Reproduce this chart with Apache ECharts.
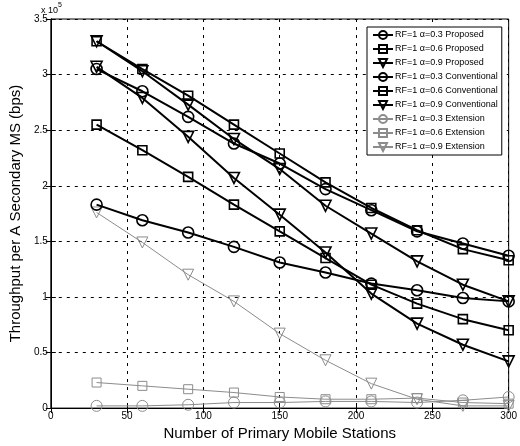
<!DOCTYPE html>
<html>
<head>
<meta charset="utf-8">
<script src="https://cdn.jsdelivr.net/npm/echarts@6/dist/echarts.min.js"></script>
<style>html,body{margin:0;padding:0;background:#fff}#c{width:520px;height:446px}</style>
</head>
<body>
<div id="c"></div>
<script>
// x values: number of primary mobile stations
const stations = [30, 60, 90, 120, 150, 180, 210, 240, 270, 300];
// throughput values (x 10^5 bps)
const propA03 = [3.05, 2.85, 2.62, 2.38, 2.20, 1.97, 1.78, 1.59, 1.48, 1.37];
const propA06 = [3.30, 3.05, 2.81, 2.55, 2.29, 2.03, 1.80, 1.60, 1.43, 1.33];
const propA09 = [3.30, 3.03, 2.73, 2.42, 2.15, 1.82, 1.57, 1.32, 1.11, 0.96];
const convA03 = [1.83, 1.69, 1.58, 1.45, 1.31, 1.22, 1.12, 1.06, 0.99, 0.96];
const convA06 = [2.55, 2.32, 2.08, 1.83, 1.59, 1.35, 1.11, 0.94, 0.80, 0.70];
const convA09 = [3.07, 2.79, 2.44, 2.07, 1.74, 1.40, 1.03, 0.76, 0.57, 0.42];
const extA03 = [0.02, 0.02, 0.03, 0.05, 0.05, 0.06, 0.06, 0.05, 0.07, 0.10];
const extA06 = [0.23, 0.20, 0.17, 0.14, 0.10, 0.08, 0.08, 0.09, 0.05, 0.04];
const extA09 = [1.76, 1.49, 1.20, 0.96, 0.67, 0.43, 0.22, 0.08, 0.02, 0.02];
const names = [
  'RF=1 \u03b1=0.3 Proposed', 'RF=1 \u03b1=0.6 Proposed', 'RF=1 \u03b1=0.9 Proposed',
  'RF=1 \u03b1=0.3 Conventional', 'RF=1 \u03b1=0.6 Conventional', 'RF=1 \u03b1=0.9 Conventional',
  'RF=1 \u03b1=0.3 Extension', 'RF=1 \u03b1=0.6 Extension', 'RF=1 \u03b1=0.9 Extension'
];
const xTicks = [0, 50, 100, 150, 200, 250, 300];
const yTicks = [0, 0.5, 1, 1.5, 2, 2.5, 3, 3.5];

const seriesData = [propA03, propA06, propA09, convA03, convA06, convA09, extA03, extA06, extA09];
const symbols = ['circle', 'rect', 'triangle', 'circle', 'rect', 'triangle', 'circle', 'rect', 'triangle'];

const FONT = 'Liberation Sans, Arial, sans-serif';
const series = seriesData.map((vals, i) => {
  const ext = i >= 6;
  const col = ext ? '#8c8c8c' : '#000';
  const sym = symbols[i];
  return {
    name: names[i],
    type: 'line',
    data: vals.map((v, k) => [stations[k], v]),
    symbol: sym,
    symbolSize: sym === 'rect' ? 9 : 11,
    symbolRotate: sym === 'triangle' ? 180 : 0,
    showAllSymbol: true,
    lineStyle: { color: col, width: ext ? 1 : 2 },
    itemStyle: { color: 'rgba(255,255,255,0)', borderColor: col, borderWidth: ext ? 1 : 1.6 },
    emphasis: { disabled: true },
    z: ext ? 2 : 3
  };
});

const chart = echarts.init(document.getElementById('c'), null, { renderer: 'canvas' });
chart.setOption({
  animation: false,
  backgroundColor: '#fff',
  grid: { left: 48, right: 11, top: 19, bottom: 33, show: true, borderColor: '#000', borderWidth: 1, backgroundColor: 'transparent' },
  legend: {
    orient: 'vertical',
    left: 367, top: 27,
    padding: [3, 4, 3, 5],
    itemGap: 4,
    itemWidth: 20,
    itemHeight: 10,
    backgroundColor: '#fff',
    borderColor: '#000',
    borderWidth: 1,
    borderRadius: 0,
    textStyle: { fontFamily: FONT, fontSize: 9, color: '#000', padding: [0, 0, 0, -3] },
    data: names
  },
  xAxis: [{
    type: 'value', min: 0, max: 300, interval: 50,
    name: 'Number of Primary Mobile Stations', nameLocation: 'middle', nameGap: 12,
    nameTextStyle: { fontFamily: FONT, fontSize: 15, color: '#000' },
    axisLine: { show: true, lineStyle: { color: '#000', width: 1 } },
    axisTick: { show: true, inside: true, length: 5, lineStyle: { color: '#000' } },
    axisLabel: { fontFamily: FONT, fontSize: 10, color: '#000', margin: 3, formatter: v => xTicks.includes(v) ? String(v) : '' },
    splitLine: { show: true, lineStyle: { color: '#000', type: [3, 5], width: 1 } }
  }, {
    type: 'value', min: 0, max: 300, interval: 50, position: 'top',
    axisLine: { show: true, lineStyle: { color: '#000', width: 1 } },
    axisTick: { show: true, inside: true, length: 5, lineStyle: { color: '#000' } },
    axisLabel: { show: false }, splitLine: { show: false }
  }],
  yAxis: [{
    type: 'value', min: 0, max: 3.5, interval: 0.5,
    name: 'Throughput per A Secondary MS (bps)', nameLocation: 'middle', nameGap: 16,
    nameTextStyle: { fontFamily: FONT, fontSize: 15, color: '#000' },
    axisLine: { show: true, lineStyle: { color: '#000', width: 1 } },
    axisTick: { show: true, inside: true, length: 5, lineStyle: { color: '#000' } },
    axisLabel: { fontFamily: FONT, fontSize: 10, color: '#000', margin: 3, formatter: v => yTicks.includes(v) ? String(v) : '' },
    splitLine: { show: true, lineStyle: { color: '#000', type: [3, 5], width: 1 } }
  }, {
    type: 'value', min: 0, max: 3.5, interval: 0.5, position: 'right',
    axisLine: { show: true, lineStyle: { color: '#000', width: 1 } },
    axisTick: { show: true, inside: true, length: 5, lineStyle: { color: '#000' } },
    axisLabel: { show: false }, splitLine: { show: false }
  }],
  graphic: [
    { type: 'text', left: 41, top: 6, style: { text: 'x 10', fontFamily: FONT, fontSize: 9, fill: '#000' } },
    { type: 'text', left: 58, top: 2, style: { text: '5', fontFamily: FONT, fontSize: 7, fill: '#000' } }
  ],
  series: series
});
</script>
</body>
</html>
